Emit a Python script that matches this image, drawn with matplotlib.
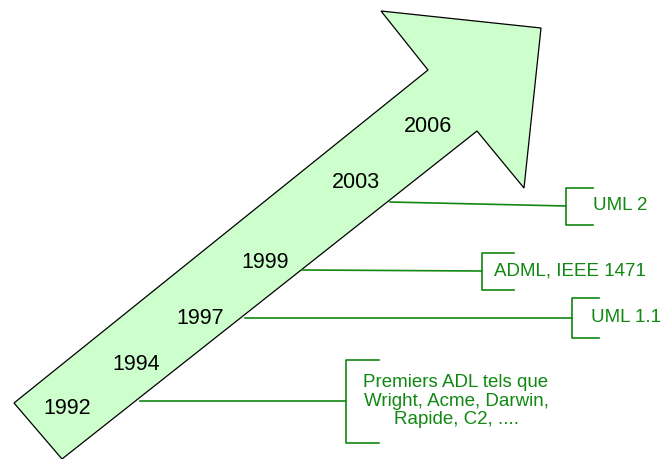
import matplotlib.pyplot as plt
from matplotlib.patches import Polygon

# timeline content
years = ['1992', '1994', '1997', '1999', '2003', '2006']
events = ['Premiers ADL tels que\nWright, Acme, Darwin,\nRapide, C2, ....',
          'UML 1.1', 'ADML, IEEE 1471', 'UML 2']

# layout in pixel coordinates (y grows downwards)
arrow_x = [14, 428, 381, 541, 524, 477, 62]
arrow_y = [403, 70, 11, 28, 188, 131, 459]
year_x = [67, 136, 200, 265, 356, 428]
year_y = [409, 365, 318, 263, 183, 127]
# connector start (on arrow), bracket x, bracket centre / height, tick length, text x
conn_x0 = [140, 245, 302, 390]
conn_y0 = [401, 318, 270, 202]
bracket_x = [346, 572, 482, 566]
bracket_y = [401, 318, 271, 206]
bracket_h = [83, 40, 37, 37]
tick_len = [33, 27, 32, 27]
text_x = [456, 591, 494, 593]

green = '#118811'

fig = plt.figure(figsize=(6.62, 4.59), dpi=100)
ax = fig.add_axes([0, 0, 1, 1])
ax.set_xlim(0, 662)
ax.set_ylim(459, 0)
ax.axis('off')

ax.add_patch(Polygon(list(zip(arrow_x, arrow_y)), closed=True,
                     facecolor='#ccffcc', edgecolor='black', lw=0.9))

for yr, x, y in zip(years, year_x, year_y):
    ax.text(x, y, yr, fontsize=15.5, family='Liberation Sans',
            ha='center', va='center', color='black')

for i, ev in enumerate(events):
    bx, by, h, t = bracket_x[i], bracket_y[i], bracket_h[i], tick_len[i]
    ax.plot([conn_x0[i], bx], [conn_y0[i], by], color=green, lw=1.2)
    ax.plot([bx + t, bx, bx, bx + t], [by - h / 2, by - h / 2, by + h / 2, by + h / 2],
            color=green, lw=1.2)
    if '\n' in ev:
        ax.text(text_x[i], by, ev, fontsize=13.5, family='Liberation Sans', color=green,
                ha='center', va='center', linespacing=1.15)
    else:
        ax.text(text_x[i], by, ev, fontsize=13.5, family='Liberation Sans',
                color=green, ha='left', va='center')

fig.savefig('out.png', dpi=100)
